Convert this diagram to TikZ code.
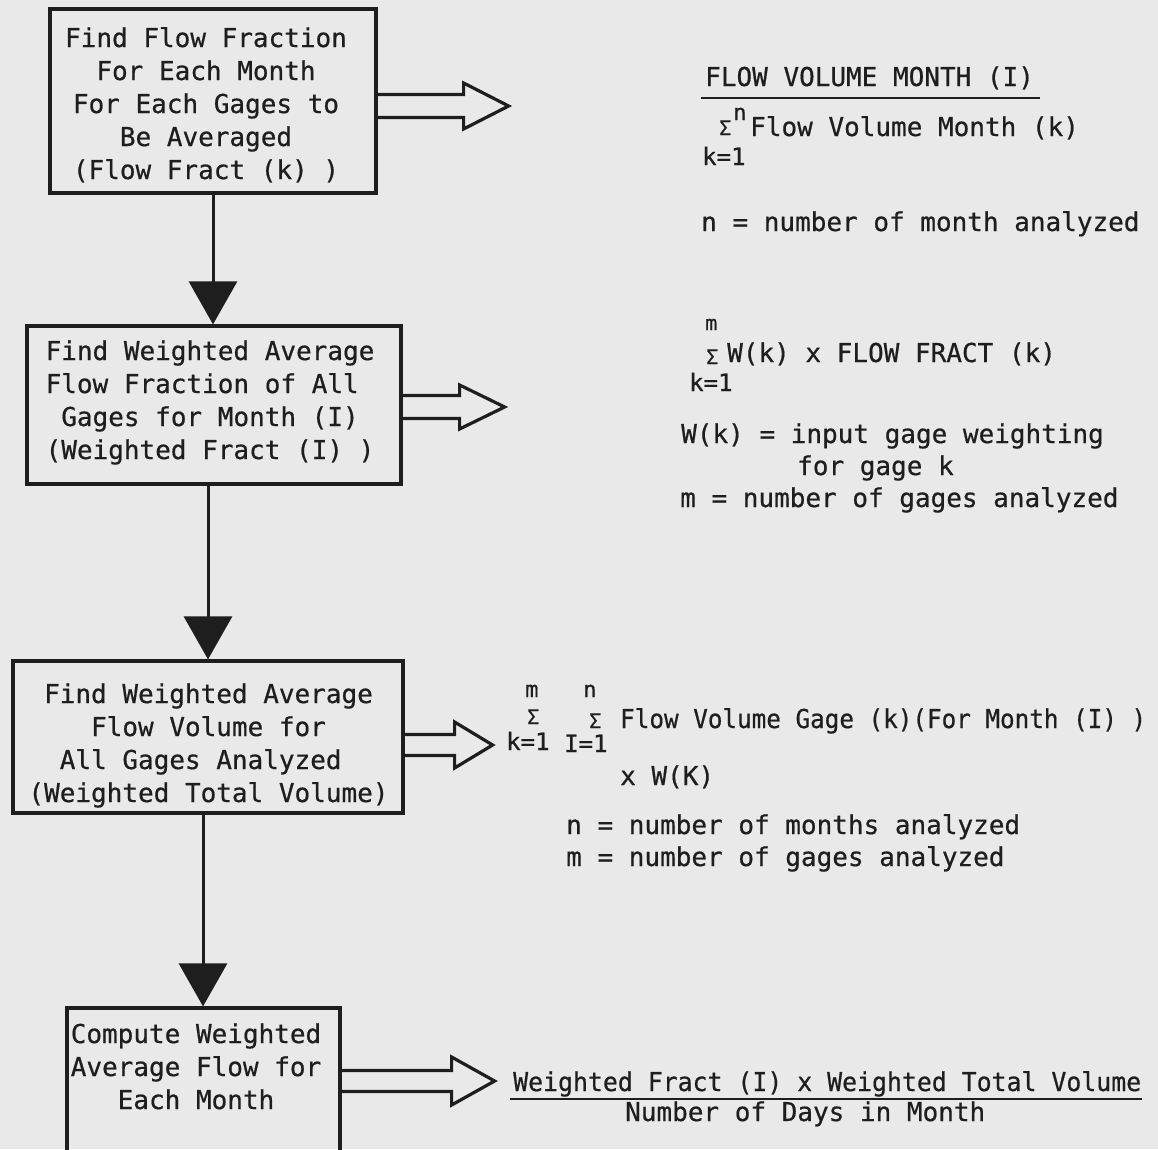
\documentclass[tikz,border=0pt]{standalone}
\usepackage{fontspec}
\newfontfamily\tw[FakeBold=0.6]{DejaVu Sans Mono}
\usetikzlibrary{arrows.meta,calc}
\definecolor{paper}{RGB}{233,233,233}
\definecolor{ink}{RGB}{30,30,30}
\begin{document}
\begin{tikzpicture}[x=1pt,y=-1pt,
 box/.style={draw=ink,line width=3.2pt,inner sep=0pt},
 boxtext/.style={font=\tw\fontsize{26}{33}\selectfont,text=ink,align=center,inner sep=0pt,anchor=base},
 notetext/.style={font=\tw\fontsize{26}{33}\selectfont,text=ink,inner sep=0pt,anchor=base west},
 sigmatext/.style={notetext,font=\tw\fontsize{20}{20}\selectfont},
 supertext/.style={notetext,font=\tw\fontsize{22}{22}\selectfont},
 limtext/.style={notetext,font=\tw\fontsize{24}{24}\selectfont},
 conn/.style={draw=ink,line width=3pt,-{Triangle[length=43pt,width=48pt]}},
 hollow/.style={draw=ink,line width=3.2pt,line join=miter},
 rulel/.style={draw=ink,line width=2.4pt}]
\fill[paper] (0,0) rectangle (1158,1149);
\useasboundingbox (0,0) rectangle (1158,1149);
\clip (0,0) rectangle (1158,1149);

% boxes
\node[box,minimum width=326pt,minimum height=184pt] (b1) at (213,101) {};
\node[box,minimum width=374pt,minimum height=158pt] (b2) at (214,405) {};
\node[box,minimum width=390pt,minimum height=152pt] (b3) at (208,737) {};
\node[box,minimum width=273pt,minimum height=180pt] (b4) at (203.5,1098) {};

% box texts (anchor = baseline of the last line)
\node[boxtext] (t1) at (206,179) {Find Flow Fraction\\For Each Month\\For Each Gages to\\Be Averaged\\(Flow Fract (k) )};
\node[boxtext] (t2) at (210,459) {Find Weighted Average\\Flow Fraction of All\hphantom{l}\\Gages for Month (I)\\(Weighted Fract (I) )};
\node[boxtext] (t3) at (208.5,802) {Find Weighted Average\\Flow Volume for\\All Gages Analyzed\hphantom{l}\\(Weighted Total Volume)};
\node[boxtext] (t4) at (196,1109) {Compute Weighted\\Average Flow for\\Each Month};

% vertical connectors
\coordinate (x1) at (213,0);
\coordinate (x2) at (208,0);
\coordinate (x3) at (203,0);
\draw[conn] (b1.south -| x1) -- (b2.north -| x1);
\draw[conn] (b2.south -| x2) -- (b3.north -| x2);
\draw[conn] (b3.south -| x3) -- (b4.north -| x3);

% hollow arrows
\coordinate (y1) at (0,106);
\coordinate (y2) at (0,407);
\coordinate (y3) at (0,745);
\coordinate (y4) at (0,1081);
\coordinate (a1) at (b1.east |- y1);
\coordinate (a2) at (b2.east |- y2);
\coordinate (a3) at (b3.east |- y3);
\coordinate (a4) at (b4.east |- y4);
\draw[hollow] (a1) ++(0,-11.5) -- ++(86,0) -- ++(0,-11.5) -- ++(45,23) -- ++(-45,23) -- ++(0,-11.5) -- ++(-86,0);
\draw[hollow] (a2) ++(0,-11.5) -- ++(57,0) -- ++(0,-10.5) -- ++(45,22) -- ++(-45,22) -- ++(0,-10.5) -- ++(-57,0);
\draw[hollow] (a3) ++(0,-10.5) -- ++(50,0) -- ++(0,-12.5) -- ++(38,23) -- ++(-38,23) -- ++(0,-12.5) -- ++(-50,0);
\draw[hollow] (a4) ++(0,-10.5) -- ++(110,0) -- ++(0,-13.5) -- ++(43,24) -- ++(-43,24) -- ++(0,-13.5) -- ++(-110,0);

% formula 1
\node[notetext] (f1a) at (705,86) {FLOW VOLUME MONTH (I)};
\draw[rulel] (701,98) -- (1040,98);
\node[sigmatext] (f1s) at (719,135) {Σ};
\node[supertext] (f1n) at (733,120) {n};
\node[notetext] (f1b) at (750,136) {Flow Volume Month (k)};
\node[limtext] (f1k) at (702,165) {k=1};
\node[notetext] (f1c) at (701,231) {n = number of month analyzed};

% formula 2
\node[sigmatext] (f2m) at (705,330) {m};
\node[sigmatext] (f2s) at (706,364) {Σ};
\node[notetext] (f2a) at (727,362) {W(k) x FLOW FRACT (k)};
\node[limtext] (f2k) at (689,391) {k=1};
\node[notetext] (f2b) at (681,443) {W(k) = input gage weighting};
\node[notetext] (f2c) at (797,475) {for gage k};
\node[notetext] (f2d) at (680,507) {m = number of gages analyzed};

% formula 3
\node[supertext] (f3m) at (525,697) {m};
\node[supertext] (f3n) at (583,697) {n};
\node[sigmatext] (f3s1) at (527,724) {Σ};
\node[sigmatext] (f3s2) at (589,728) {Σ};
\node[limtext] (f3k) at (506,750) {k=1};
\node[limtext] (f3i) at (564,752) {I=1};
\node[notetext] (f3a) at (620,728) {\resizebox{526pt}{\height}{Flow Volume Gage (k)(For Month (I) )}};
\node[notetext] (f3b) at (620,785) {x W(K)};
\node[notetext] (f3c) at (566,834) {n = number of months analyzed};
\node[notetext] (f3d) at (566,866) {m = number of gages analyzed};

% formula 4
\node[notetext] (f4a) at (513,1091) {\resizebox{628pt}{\height}{Weighted Fract (I) x Weighted Total Volume}};
\draw[rulel] (510,1099) -- (1142,1099);
\node[notetext] (f4b) at (625,1121) {Number of Days in Month};
\end{tikzpicture}
\end{document}
